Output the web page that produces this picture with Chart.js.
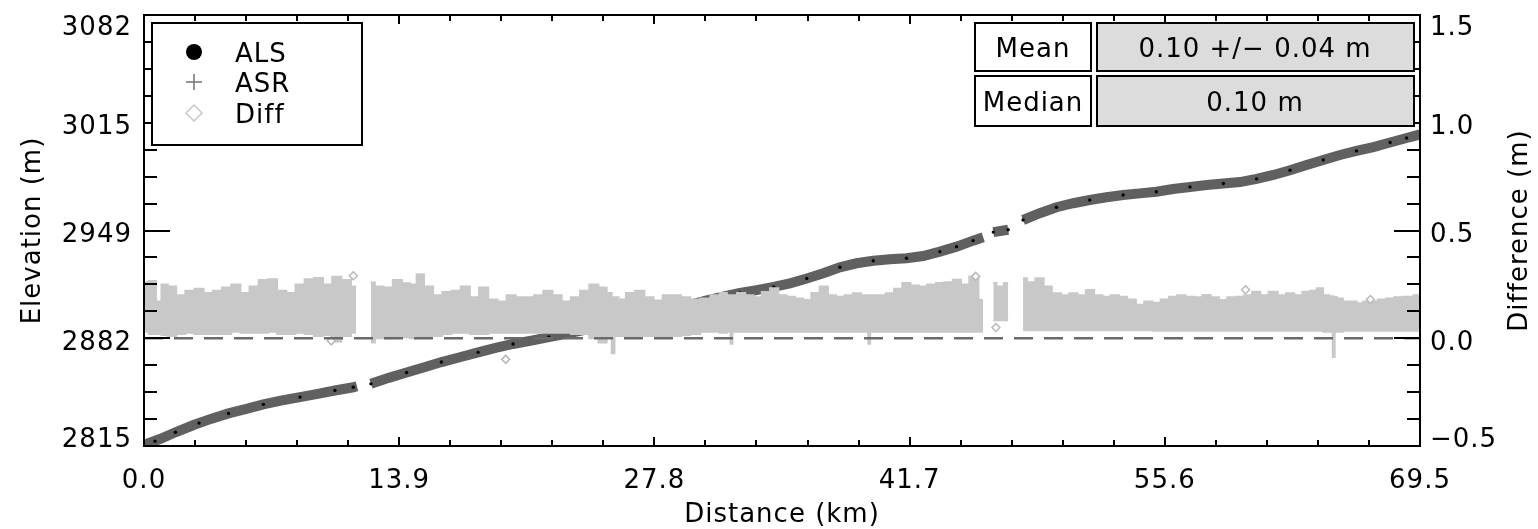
<!DOCTYPE html>
<html>
<head>
<meta charset="utf-8">
<script src="https://cdn.jsdelivr.net/npm/chart.js@4.4.0/dist/chart.umd.min.js"></script>
<style>
  body { margin: 0; background: #fff; }
  #wrap { width: 1538px; height: 529px; }
</style>
</head>
<body>
<div id="wrap"><canvas id="profile"></canvas></div>
<script>
// elevation profile (ALS / ASR), km along track
const elevKm = [0, 0.9, 1.71, 2.7, 3.64, 4.6, 5.58, 6.5, 7.52, 8.5, 9.46, 10.4, 11.4, 11.6, 12.0,
  12.36, 13.33, 14.3, 15.27, 16.2, 17.2, 18.2, 19.15, 20.1, 21.1, 22.05, 23.0, 24.0, 25.0, 26.0,
  27.0, 28.0, 29.0, 29.74, 30.6, 31.55, 32.46, 33.37, 34.3, 35.18, 36.1, 37.0, 37.9, 38.81,
  39.72, 40.63, 41.53, 42.44, 43.35, 44.26, 45.16, 45.71, 46.0, 46.26, 47.07, 47.5, 47.88,
  48.79, 49.7, 50.61, 51.51, 52.42, 53.33, 54.24, 55.14, 56.05, 56.97, 57.88, 58.79, 59.69,
  60.6, 61.51, 62.42, 63.32, 64.23, 65.14, 66.04, 66.96, 67.87, 68.77, 69.5];
const elevation = [2815.7, 2819.5, 2823.5, 2828.0, 2831.8, 2835.2, 2838.0, 2840.8, 2843.2, 2845.3,
  2847.3, 2849.4, 2851.4, 2852.0, null,
  2853.5, 2857.2, 2860.5, 2863.8, 2867.0, 2870.0, 2873.0, 2875.8, 2878.2, 2880.3, 2882.5,
  2884.5, 2887.0, 2889.6, 2892.6, 2896.0, 2899.0, 2901.3, 2902.4, 2905.0, 2907.5, 2909.8,
  2911.6, 2913.6, 2915.8, 2918.8, 2922.0, 2925.7, 2928.2, 2929.8, 2930.7, 2931.3, 2932.7,
  2935.4, 2938.5, 2942.2, 2944.3, null, 2947.5, 2949.0, null, 2955.0,
  2959.2, 2962.9, 2965.4, 2967.4, 2969.1, 2970.5, 2971.5, 2972.5, 2974.2, 2975.5, 2976.7,
  2977.6, 2978.5, 2980.5, 2982.9, 2985.8, 2989.1, 2992.2, 2995.3, 2997.8, 3000.2, 3003.0,
  3005.8, 3008.0];

// ALS - ASR difference cloud, upper and lower edge (m)
const diffKm = [0, 0.5, 0.8, 1.1, 1.5, 2.0, 2.5, 3.0, 3.5, 4.0, 4.5, 5.0, 5.5, 6.0, 6.5, 7.0,
  7.5, 8.0, 8.5, 9.0, 9.5, 10.0, 10.5, 11.0, 11.55, 11.95, 12.35, 12.8, 13.3, 13.8, 14.3, 14.7,
  15.0, 15.5, 16.0, 16.5, 17.0, 17.5, 18.0, 18.5, 19.0, 19.5, 20.0, 20.5, 21.0, 21.5, 22.0,
  22.5, 23.0, 23.5, 24.0, 24.5, 25.0, 25.4, 25.55, 25.7, 26.0, 26.5, 27.0, 27.5, 28.0, 28.5,
  29.0, 29.5, 30.0, 30.6, 31.1, 31.6, 31.9, 32.0, 32.1, 32.5, 33.0, 33.4, 33.9, 34.3, 34.8,
  35.2, 35.7, 36.1, 36.6, 37.0, 37.5, 37.9, 38.4, 38.8, 39.3, 39.4, 39.5, 39.6, 40.2, 40.6,
  41.1, 41.5, 42.0, 42.4, 42.9, 43.4, 43.8, 44.3, 44.7, 45.2, 45.7, 45.95, 46.26, 46.6, 47.07,
  47.4, 47.88, 48.3, 48.8, 49.2, 49.7, 50.2, 50.6, 51.1, 51.5, 52.0, 52.4, 52.9, 53.3, 53.8,
  54.25, 54.7, 55.15, 55.6, 56.05, 56.5, 56.95, 57.4, 57.9, 58.3, 58.8, 59.2, 59.7, 60.1,
  60.6, 61.0, 61.5, 62.0, 62.4, 62.9, 63.3, 63.7, 64.05, 64.4, 64.7, 64.8, 64.9, 65.1, 65.5,
  65.9, 66.2, 66.6, 67.0, 67.4, 67.9, 68.3, 68.8, 69.5];
const diffTop = [0.26, 0.266, 0.17, 0.25, 0.24, 0.20, 0.22, 0.23, 0.21, 0.22, 0.235, 0.25, 0.21,
  0.24, 0.27, 0.274, 0.22, 0.21, 0.25, 0.274, 0.28, 0.25, 0.285, 0.27, 0.24, null, 0.259, 0.24,
  0.235, 0.27, 0.255, 0.25, 0.297, 0.24, 0.20, 0.215, 0.22, 0.24, 0.19, 0.235, 0.18, 0.17, 0.20,
  0.19, 0.19, 0.20, 0.22, 0.20, 0.17, 0.19, 0.22, 0.25, 0.235, 0.21, 0.19, 0.19, 0.18, 0.21,
  0.22, 0.19, 0.175, 0.20, 0.20, 0.19, 0.18, 0.185, 0.20, 0.21, 0.20, 0.20, 0.20, 0.21, 0.20,
  0.19, 0.215, 0.232, 0.20, 0.193, 0.185, 0.178, 0.21, 0.24, 0.20, 0.193, 0.20, 0.209, 0.20,
  0.20, 0.20, 0.20, 0.20, 0.209, 0.23, 0.256, 0.245, 0.24, 0.25, 0.256, 0.26, 0.271, 0.25,
  0.287, 0.178, null, 0.256, 0.24, 0.256, null, 0.279, 0.26, 0.279, 0.24, 0.209, 0.20, 0.209,
  0.20, 0.224, 0.20, 0.193, 0.20, 0.193, 0.18, 0.155, 0.17, 0.165, 0.18, 0.193, 0.20, 0.193,
  0.19, 0.201, 0.19, 0.178, 0.19, 0.193, 0.20, 0.216, 0.20, 0.216, 0.20, 0.209, 0.20, 0.216,
  0.22, 0.232, 0.20, 0.195, 0.193, 0.19, 0.185, 0.17, 0.17, 0.162, 0.17, 0.17, 0.18, 0.185,
  0.19, 0.193, 0.20];
const diffBottom = [0.03, 0.02, 0.02, 0.015, 0.01, 0.02, 0.025, 0.02, 0.02, 0.02, 0.02, 0.03,
  0.025, 0.025, 0.025, 0.03, 0.02, 0.02, 0.025, 0.02, 0.011, 0.015, -0.015, 0.01, 0.025, null,
  -0.02, 0.0, 0.0, 0.005, 0.005, 0.0, 0.01, 0.011, 0.011, 0.02, 0.026, 0.026, 0.02, 0.02, 0.026,
  0.026, 0.026, 0.026, 0.026, 0.026, 0.026, 0.026, 0.026, 0.02, 0.02, 0.0, -0.02, 0.011, -0.07,
  0.011, 0.01, 0.011, 0.011, 0.011, 0.011, 0.011, 0.011, 0.015, 0.02, 0.03, 0.03, 0.025, 0.03,
  -0.025, 0.03, 0.03, 0.03, 0.03, 0.03, 0.03, 0.03, 0.03, 0.03, 0.03, 0.03, 0.03, 0.03, 0.03,
  0.03, 0.03, 0.03, 0.03, -0.025, 0.03, 0.03, 0.03, 0.03, 0.03, 0.03, 0.03, 0.03, 0.03, 0.03,
  0.03, 0.03, 0.03, 0.03, null, 0.084, 0.084, 0.084, null, 0.037, 0.037, 0.037, 0.037, 0.037,
  0.037, 0.037, 0.037, 0.037, 0.037, 0.037, 0.037, 0.037, 0.037, 0.037, 0.037, 0.035, 0.035,
  0.035, 0.035, 0.035, 0.035, 0.035, 0.035, 0.035, 0.035, 0.035, 0.035, 0.035, 0.035, 0.035,
  0.035, 0.035, 0.035, 0.035, 0.035, 0.035, 0.03, 0.03, -0.087, 0.03, 0.03, 0.035, 0.035,
  0.035, 0.035, 0.035, 0.035, 0.035, 0.035, 0.035, 0.035];

// isolated diff points drawn as diamonds
const outlierKm = [10.2, 11.4, 19.7, 45.3, 46.4, 60.0, 66.8];
const outlierDiff = [-0.012, 0.29, -0.098, 0.287, 0.05, 0.225, 0.18];

// sparse ALS returns shown as black dots on the band
const alsKm = [0.6, 1.71, 3.0, 4.6, 6.5, 8.5, 10.4, 11.4, 12.36, 14.3, 16.2, 18.2, 20.1, 22.05,
  30.6, 32.46, 34.3, 36.1, 37.9, 39.72, 41.53, 43.35, 44.26, 45.16, 46.26, 47.07, 47.88,
  49.7, 51.51, 53.33, 55.14, 56.97, 58.79, 60.6, 62.42, 64.23, 66.04, 67.87, 68.77];
const alsElev = [2818.0, 2823.5, 2829.2, 2835.2, 2840.8, 2845.3, 2849.4, 2851.4, 2853.5, 2860.5,
  2867.0, 2873.0, 2878.2, 2882.5, 2905.0, 2909.8, 2913.6, 2918.8, 2925.7, 2929.8, 2931.3,
  2935.4, 2938.5, 2942.2, 2947.5, 2949.0, 2955.0, 2962.9, 2967.4, 2970.5, 2972.5, 2975.5,
  2977.6, 2980.5, 2985.8, 2992.2, 2997.8, 3003.0, 3005.8];

const xTickLabels = ['0.0', '13.9', '27.8', '41.7', '55.6', '69.5'];
const elevTickLabels = ['2815', '2882', '2949', '3015', '3082'];
const diffTickLabels = ['\u22120.5', '0.0', '0.5', '1.0', '1.5'];

const statNames = ['Mean', 'Median'];
const statValues = ['0.10 +/\u2212 0.04 m', '0.10 m'];

const FONT = '26px "DejaVu Sans"';

function pair(xs, ys) {
    return xs.map((x, i) => ({ x: x, y: ys[i] }));
}

function line(ctx, x1, y1, x2, y2) {
    ctx.beginPath();
    ctx.moveTo(x1, y1);
    ctx.lineTo(x2, y2);
    ctx.stroke();
}

// IDL style box: frame, inward ticks, tick labels, titles, legend and stats table
const idlFrame = {
    id: 'idlFrame',
    afterDatasetsDraw(chart) {
        const { ctx, chartArea: a, scales } = chart;
        const xs = scales.x, ys = scales.y;
        ctx.save();
        ctx.strokeStyle = '#000';
        ctx.fillStyle = '#000';
        ctx.lineWidth = 2;
        ctx.strokeRect(a.left, a.top, a.right - a.left, a.bottom - a.top);

        // x ticks, 5 majors with 5 minor intervals each
        for (let i = 0; i <= 25; i++) {
            const px = Math.round(xs.getPixelForValue(i * xs.max / 25));
            const len = i % 5 === 0 ? 9 : 6;
            line(ctx, px, a.bottom, px, a.bottom - len);
            line(ctx, px, a.top, px, a.top + len);
        }
        // y ticks, 4 majors with 4 minor intervals each
        for (let i = 0; i <= 16; i++) {
            const py = Math.round(ys.getPixelForValue(ys.min + i * (ys.max - ys.min) / 16));
            const len = i % 4 === 0 ? 26 : 13;
            line(ctx, a.left, py, a.left + len, py);
            line(ctx, a.right, py, a.right - len, py);
        }

        ctx.font = FONT;
        ctx.letterSpacing = '1px';
        ctx.textBaseline = 'alphabetic';
        ctx.textAlign = 'center';
        xTickLabels.forEach((t, i) => {
            ctx.fillText(t, xs.getPixelForValue(i * xs.max / 5), 488);
        });
        elevTickLabels.forEach((t, i) => {
            const py = ys.getPixelForValue(ys.min + i * (ys.max - ys.min) / 4);
            const cy = Math.min(Math.max(py + 2, a.top + 10), a.bottom - 9);
            ctx.textAlign = 'right';
            ctx.fillText(t, a.left - 12, cy + 9.5);
            ctx.textAlign = 'left';
            ctx.fillText(diffTickLabels[i], a.right + 10, cy + 9.5);
        });

        ctx.textAlign = 'center';
        ctx.fillText('Distance (km)', (a.left + a.right) / 2, 522);
        ctx.save();
        ctx.translate(40, (a.top + a.bottom) / 2);
        ctx.rotate(-Math.PI / 2);
        ctx.fillText('Elevation (m)', 0, 0);
        ctx.restore();
        ctx.save();
        ctx.translate(1527, (a.top + a.bottom) / 2);
        ctx.rotate(-Math.PI / 2);
        ctx.fillText('Difference (m)', 0, 0);
        ctx.restore();

        // legend
        ctx.fillStyle = '#fff';
        ctx.fillRect(152, 23, 210, 122);
        ctx.strokeRect(152, 23, 210, 122);
        ctx.fillStyle = '#000';
        ctx.beginPath();
        ctx.arc(194, 52, 8, 0, Math.PI * 2);
        ctx.fill();
        ctx.strokeStyle = '#707070';
        ctx.lineWidth = 1.5;
        line(ctx, 186, 82, 202, 82);
        line(ctx, 194, 74, 194, 90);
        ctx.strokeStyle = '#c8c8c8';
        ctx.beginPath();
        ctx.moveTo(194, 105); ctx.lineTo(202, 113); ctx.lineTo(194, 121); ctx.lineTo(186, 113);
        ctx.closePath();
        ctx.stroke();
        ctx.fillStyle = '#000';
        ctx.textAlign = 'left';
        ctx.fillText('ALS', 235, 62);
        ctx.fillText('ASR', 235, 92);
        ctx.fillText('Diff', 235, 123);

        // stats table
        ctx.strokeStyle = '#000';
        ctx.lineWidth = 2;
        const rows = [[23, 48], [76, 50]];
        rows.forEach((r, i) => {
            ctx.fillStyle = '#fff';
            ctx.fillRect(975, r[0], 116, r[1]);
            ctx.strokeRect(975, r[0], 116, r[1]);
            ctx.fillStyle = '#dcdcdc';
            ctx.fillRect(1097, r[0], 317, r[1]);
            ctx.strokeRect(1097, r[0], 317, r[1]);
            ctx.fillStyle = '#000';
            ctx.textAlign = 'center';
            ctx.fillText(statNames[i], 1033, r[0] + r[1] / 2 + 9.5);
            ctx.fillText(statValues[i], 1255, r[0] + r[1] / 2 + 9.5);
        });
        ctx.restore();
    }
};

function drawChart() {
    Chart.defaults.font.family = '"DejaVu Sans"';
    const ctx = document.getElementById('profile').getContext('2d');
    new Chart(ctx, {
        type: 'line',
        data: {
            datasets: [
                {
                    label: 'Zero',
                    data: pair([0, 69.5], [0, 0]),
                    yAxisID: 'y2',
                    borderColor: '#6a6a6a',
                    borderWidth: 2.5,
                    borderDash: [19, 11],
                    pointRadius: 0,
                    order: 0
                },
                {
                    label: 'Diff outliers',
                    data: pair(outlierKm, outlierDiff),
                    yAxisID: 'y2',
                    showLine: false,
                    pointStyle: 'rectRot',
                    pointRadius: 4,
                    pointBorderWidth: 1.5,
                    pointBorderColor: '#b8b8b8',
                    pointBackgroundColor: '#fff',
                    order: 1
                },
                {
                    label: 'Diff',
                    data: pair(diffKm, diffTop),
                    yAxisID: 'y2',
                    borderColor: '#c8c8c8',
                    backgroundColor: '#c8c8c8',
                    borderWidth: 2,
                    pointRadius: 0,
                    stepped: 'middle',
                    fill: '+1',
                    order: 2
                },
                {
                    label: 'Diff low',
                    data: pair(diffKm, diffBottom),
                    yAxisID: 'y2',
                    borderColor: '#c8c8c8',
                    borderWidth: 2,
                    pointRadius: 0,
                    stepped: 'middle',
                    fill: false,
                    order: 2
                },
                {
                    label: 'ALS',
                    data: pair(alsKm, alsElev),
                    yAxisID: 'y',
                    showLine: false,
                    pointRadius: 1.7,
                    pointBorderWidth: 0,
                    pointBackgroundColor: '#000',
                    order: 3
                },
                {
                    label: 'ASR',
                    data: pair(elevKm, elevation),
                    yAxisID: 'y',
                    borderColor: '#606060',
                    borderWidth: 10,
                    borderCapStyle: 'butt',
                    pointRadius: 0,
                    tension: 0,
                    order: 4
                }
            ]
        },
        options: {
            responsive: true,
            maintainAspectRatio: false,
            animation: false,
            layout: { padding: { left: 144, right: 118, top: 15, bottom: 83 } },
            plugins: {
                legend: { display: false },
                tooltip: { enabled: false }
            },
            scales: {
                x: { type: 'linear', min: 0, max: 69.5, display: false },
                y: { min: 2815, max: 3082, display: false },
                y2: { min: -0.5, max: 1.5, display: false, position: 'right' }
            }
        },
        plugins: [idlFrame]
    });
}

document.addEventListener('DOMContentLoaded', drawChart);
</script>
</body>
</html>
